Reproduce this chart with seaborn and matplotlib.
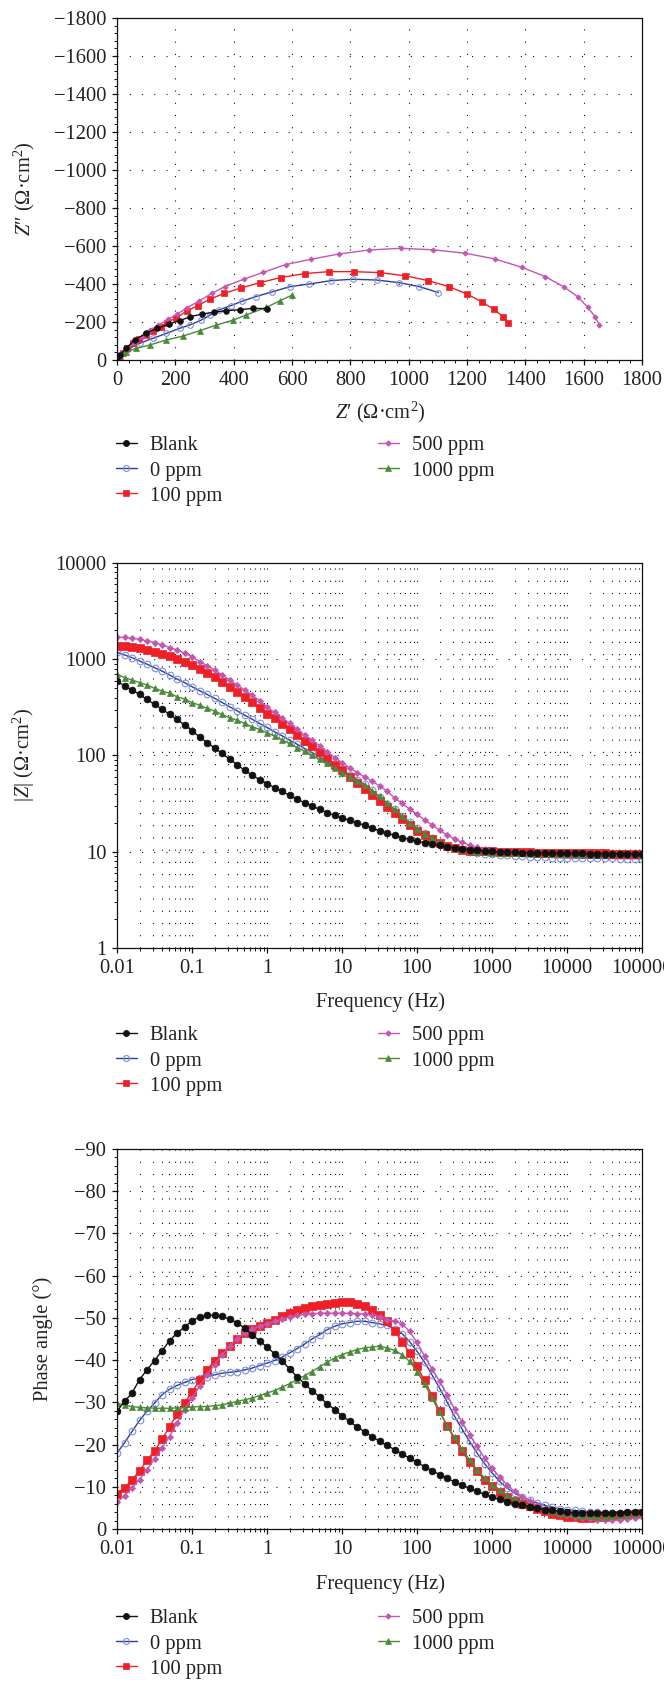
import numpy as np
import matplotlib
matplotlib.use("Agg")
import matplotlib.pyplot as plt
import seaborn as sns
from matplotlib.ticker import MultipleLocator, LogLocator, FuncFormatter, NullFormatter
from matplotlib.lines import Line2D

# ---------------------------------------------------------------- data
series = ["Blank", "0 ppm", "100 ppm", "500 ppm", "1000 ppm"]

# Nyquist: Z' and Z'' (ohm cm^2)
nyq_re_blank = [0, 10, 31, 60, 99, 138, 179, 215, 251, 292, 331, 375, 423, 467, 513]
nyq_im_blank = [0, -25, -61, -105, -140, -167, -190, -207, -228, -242, -251, -260, -265, -272, -270]

nyq_re_0 = [0, 9, 38, 78, 123, 169, 215, 249, 289, 320, 348, 390, 430, 476, 531, 593,
            659, 734, 808, 890, 968, 1037, 1102]
nyq_im_0 = [0, -26, -58, -88, -114, -140, -167, -184, -210, -237, -263, -286, -310, -334,
            -358, -386, -400, -418, -425, -421, -407, -386, -355]

nyq_re_100 = [0, 7, 19, 33, 55, 77, 99, 124, 150, 172, 201, 240, 276, 318, 368, 425, 490,
              561, 644, 727, 811, 901, 989, 1066, 1138, 1199, 1250, 1291, 1325, 1342]
nyq_im_100 = [0, -18, -39, -61, -88, -109, -132, -155, -176, -197, -220, -258, -285, -320,
              -351, -379, -407, -434, -455, -465, -465, -460, -443, -418, -386, -348, -307,
              -267, -228, -197]

nyq_re_500 = [0, 26, 55, 84, 113, 142, 176, 205, 240, 281, 326, 369, 434, 501, 578, 664,
              761, 864, 974, 1083, 1194, 1295, 1388, 1468, 1531, 1579, 1614, 1639, 1654]
nyq_im_500 = [0, -44, -88, -123, -158, -184, -214, -240, -275, -310, -351, -386, -425, -461,
              -502, -530, -558, -579, -588, -580, -562, -532, -488, -439, -386, -334, -277,
              -228, -184]

nyq_re_1000 = [0, 9, 32, 66, 112, 169, 226, 283, 341, 398, 443, 512, 559, 600]
nyq_im_1000 = [0, -21, -44, -61, -79, -105, -126, -154, -184, -210, -237, -277, -312, -342]

# Bode: frequency grid, 10 points per decade from 0.01 Hz to 100 kHz
freq = 10 ** np.linspace(-2, 5, 71)

# log10 |Z| (ohm cm^2)
logz_blank = [2.774, 2.722, 2.681, 2.635, 2.583, 2.531, 2.483, 2.427, 2.375, 2.316, 2.257,
              2.194, 2.135, 2.080, 2.021, 1.962, 1.906, 1.847, 1.795, 1.750, 1.708,
              1.667, 1.628, 1.587, 1.545, 1.510, 1.476, 1.441, 1.406, 1.378, 1.351,
              1.326, 1.302, 1.274, 1.247, 1.218, 1.192, 1.170, 1.148, 1.128, 1.110,
              1.095, 1.080, 1.066, 1.052, 1.040, 1.030, 1.021, 1.014, 1.008, 1.003,
              0.999, 0.996, 0.993, 0.991, 0.989, 0.987, 0.986, 0.985, 0.984, 0.983,
              0.982, 0.982, 0.981, 0.981, 0.980, 0.980, 0.979, 0.979, 0.978, 0.978]
logz_0 = [3.073, 3.045, 3.017, 2.983, 2.948, 2.913, 2.878, 2.837, 2.795, 2.757, 2.715,
          2.674, 2.635, 2.594, 2.552, 2.507, 2.465, 2.420, 2.378, 2.333, 2.292,
          2.247, 2.205, 2.160, 2.118, 2.073, 2.031, 1.986, 1.941, 1.892, 1.847,
          1.800, 1.750, 1.700, 1.640, 1.570, 1.500, 1.440, 1.370, 1.310, 1.250,
          1.190, 1.140, 1.095, 1.060, 1.035, 1.015, 1.000, 0.990, 0.980, 0.973,
          0.968, 0.962, 0.957, 0.952, 0.948, 0.945, 0.942, 0.940, 0.938, 0.936,
          0.935, 0.934, 0.933, 0.932, 0.931, 0.930, 0.929, 0.928, 0.928, 0.927]
logz_100 = [3.142, 3.140, 3.132, 3.115, 3.097, 3.080, 3.056, 3.035, 3.003, 2.976, 2.941,
            2.899, 2.854, 2.812, 2.760, 2.708, 2.656, 2.604, 2.552, 2.490, 2.434,
            2.385, 2.323, 2.271, 2.212, 2.153, 2.101, 2.038, 1.976, 1.906, 1.847,
            1.778, 1.715, 1.656, 1.590, 1.524, 1.460, 1.400, 1.340, 1.275, 1.220,
            1.175, 1.130, 1.090, 1.055, 1.035, 1.020, 1.012, 1.008, 1.005, 1.003,
            1.001, 0.999, 0.997, 0.995, 0.993, 0.991, 0.990, 0.989, 0.988, 0.987,
            0.986, 0.985, 0.984, 0.983, 0.982, 0.981, 0.980, 0.980, 0.979, 0.979]
logz_500 = [3.229, 3.226, 3.219, 3.208, 3.191, 3.174, 3.149, 3.122, 3.097, 3.063, 3.028,
            2.976, 2.934, 2.889, 2.837, 2.785, 2.733, 2.681, 2.628, 2.569, 2.507,
            2.448, 2.392, 2.333, 2.274, 2.212, 2.160, 2.101, 2.038, 1.979, 1.927,
            1.872, 1.823, 1.778, 1.733, 1.685, 1.630, 1.560, 1.503, 1.444, 1.389,
            1.330, 1.278, 1.226, 1.174, 1.132, 1.098, 1.070, 1.046, 1.029, 1.015,
            1.007, 1.001, 0.997, 0.994, 0.992, 0.990, 0.988, 0.986, 0.985, 0.984,
            0.983, 0.982, 0.981, 0.980, 0.979, 0.978, 0.977, 0.976, 0.976, 0.975]
logz_1000 = [2.847, 2.809, 2.785, 2.757, 2.733, 2.698, 2.670, 2.646, 2.611, 2.587, 2.549,
             2.524, 2.490, 2.462, 2.427, 2.392, 2.368, 2.333, 2.299, 2.271, 2.236,
             2.201, 2.160, 2.125, 2.083, 2.045, 2.003, 1.962, 1.917, 1.872, 1.823,
             1.778, 1.733, 1.690, 1.635, 1.575, 1.510, 1.440, 1.370, 1.300, 1.240,
             1.185, 1.140, 1.100, 1.065, 1.040, 1.020, 1.008, 1.000, 0.995, 0.990,
             0.988, 0.986, 0.985, 0.983, 0.982, 0.981, 0.980, 0.979, 0.978, 0.977,
             0.976, 0.975, 0.975, 0.974, 0.974, 0.973, 0.973, 0.972, 0.972, 0.971]

# Phase angle (degrees)
phase_blank = [-27.9, -30.2, -32.2, -35.4, -37.7, -39.9, -42.2, -44.6, -46.4, -47.8, -49.3,
               -50.2, -50.6, -50.6, -50.4, -49.7, -48.8, -47.6, -46.0, -44.6, -43.1,
               -41.5, -39.9, -37.9, -36.1, -34.4, -32.8, -31.3, -29.7, -28.3, -26.8,
               -25.5, -24.2, -23.0, -21.9, -20.8, -19.8, -18.8, -17.8, -16.8, -15.8,
               -14.8, -13.8, -12.9, -12.0, -11.2, -10.4, -9.6, -8.9, -8.2, -7.6,
               -7.0, -6.5, -6.0, -5.6, -5.2, -4.9, -4.6, -4.4, -4.2, -4.0,
               -3.9, -3.9, -3.9, -3.9, -3.9, -3.9, -3.9, -4.0, -4.0, -4.0]
phase_0 = [-18.0, -20.4, -23.1, -25.7, -27.9, -29.8, -31.8, -33.1, -34.0, -34.7, -35.4,
           -35.8, -36.1, -36.5, -36.9, -37.1, -37.3, -37.7, -38.1, -38.7, -39.3,
           -39.9, -40.7, -41.7, -42.7, -43.8, -45.0, -46.0, -47.2, -48.0, -48.6,
           -48.9, -49.2, -49.2, -48.9, -48.6, -48.2, -47.4, -46.3, -44.4, -42.1,
           -39.5, -36.5, -33.4, -30.1, -26.7, -23.7, -20.8, -18.0, -15.5, -13.3,
           -11.3, -9.7, -8.5, -7.6, -6.8, -6.2, -5.6, -5.2, -4.8, -4.6,
           -4.4, -4.2, -4.1, -4.0, -3.9, -3.8, -3.7, -3.7, -3.6, -3.5]
phase_100 = [-8.4, -9.7, -11.7, -13.7, -16.3, -18.5, -21.2, -24.2, -27.2, -29.8, -32.4,
             -35.2, -37.6, -39.9, -41.7, -43.4, -45.0, -46.4, -47.4, -48.1, -48.9,
             -49.6, -50.4, -51.1, -51.8, -52.3, -52.7, -53.0, -53.4, -53.6, -53.7,
             -53.7, -53.4, -52.9, -51.9, -50.6, -49.2, -46.8, -44.4, -41.7, -38.5,
             -35.2, -31.6, -28.0, -24.5, -21.3, -18.4, -15.9, -13.7, -11.7, -10.1,
             -8.7, -7.6, -6.7, -6.0, -5.4, -4.7, -4.2, -3.6, -3.2, -2.9,
             -2.8, -2.7, -2.7, -2.8, -2.8, -3.0, -3.2, -3.4, -3.6, -3.9]
phase_500 = [-6.3, -7.9, -9.7, -11.7, -14.0, -16.6, -19.2, -21.9, -25.1, -28.3, -31.0,
             -33.8, -36.5, -38.9, -41.3, -43.3, -45.0, -46.4, -47.4, -48.0, -48.6,
             -49.2, -49.7, -50.2, -50.6, -50.9, -51.0, -51.1, -51.1, -51.1, -51.1,
             -51.1, -51.0, -50.9, -50.7, -50.3, -49.6, -49.2, -48.6, -46.8, -44.2,
             -41.0, -37.9, -35.0, -31.8, -28.4, -25.3, -22.3, -19.6, -16.8, -14.4,
             -12.3, -10.5, -8.9, -7.6, -6.6, -5.6, -4.8, -4.2, -3.6, -3.2,
             -2.8, -2.6, -2.4, -2.2, -2.1, -2.1, -2.2, -2.4, -2.6, -2.8]
phase_1000 = [-29.8, -29.4, -29.0, -28.8, -28.7, -28.6, -28.6, -28.6, -28.7, -28.7, -28.9,
              -29.0, -29.0, -29.2, -29.4, -29.8, -30.2, -30.6, -31.0, -31.6, -32.2,
              -32.8, -33.6, -34.4, -35.4, -36.3, -37.3, -38.4, -39.5, -40.5, -41.3,
              -41.9, -42.5, -42.9, -43.1, -43.3, -42.9, -42.3, -41.3, -39.7, -37.3,
              -34.4, -31.0, -27.7, -24.5, -21.7, -18.9, -16.4, -14.0, -12.1, -10.5,
              -9.2, -8.0, -7.0, -6.2, -5.6, -5.1, -4.6, -4.1, -3.8, -3.5,
              -3.2, -3.1, -3.0, -2.9, -2.9, -3.0, -3.2, -3.3, -3.5, -3.7]

nyquist = {"Blank": (nyq_re_blank, nyq_im_blank), "0 ppm": (nyq_re_0, nyq_im_0),
           "100 ppm": (nyq_re_100, nyq_im_100), "500 ppm": (nyq_re_500, nyq_im_500),
           "1000 ppm": (nyq_re_1000, nyq_im_1000)}
modulus = {"Blank": logz_blank, "0 ppm": logz_0, "100 ppm": logz_100,
           "500 ppm": logz_500, "1000 ppm": logz_1000}
phase = {"Blank": phase_blank, "0 ppm": phase_0, "100 ppm": phase_100,
         "500 ppm": phase_500, "1000 ppm": phase_1000}

# ---------------------------------------------------------------- styling
styles = {
    "Blank":    dict(line="#111111", marker="o", ms=4.8, mfc="#111111", mec="#111111", mew=0.6),
    "0 ppm":    dict(line="#2c3f9c", marker="o", ms=4.8, mfc="none", mec="#7f8fd8", mew=0.8),
    "100 ppm":  dict(line="#ee1f26", marker="s", ms=5.4, mfc="#ee1f26", mec="#ee1f26", mew=0.5),
    "500 ppm":  dict(line="#c256b0", marker="D", ms=3.2, mfc="#c256b0", mec="#c256b0", mew=0.5),
    "1000 ppm": dict(line="#4b8a3a", marker="^", ms=4.6, mfc="#4b8a3a", mec="#4b8a3a", mew=0.5),
}
draw_order = ["0 ppm", "100 ppm", "500 ppm", "1000 ppm", "Blank"]

sns.set_style("ticks")
plt.rcParams.update({
    "font.family": ["Liberation Serif", "DejaVu Serif"],
    "mathtext.fontset": "custom",
    "mathtext.rm": "Liberation Serif",
    "mathtext.it": "Liberation Serif:italic",
    "font.size": 14.8,
    "axes.linewidth": 0.9,
    "axes.edgecolor": "#111111",
    "xtick.color": "#111111",
    "ytick.color": "#111111",
    "xtick.labelcolor": "#222222",
    "ytick.labelcolor": "#222222",
    "xtick.direction": "out",
    "ytick.direction": "out",
    "xtick.major.size": 3.6,
    "ytick.major.size": 3.6,
    "xtick.minor.size": 2.2,
    "ytick.minor.size": 2.2,
    "xtick.major.width": 0.9,
    "ytick.major.width": 0.9,
    "xtick.minor.width": 0.7,
    "ytick.minor.width": 0.7,
    "xtick.major.pad": 4,
    "ytick.major.pad": 4,
    "xtick.labelsize": 14.8,
    "ytick.labelsize": 14.8,
})

W, H = 664, 1685
fig = plt.figure(figsize=(W / 100, H / 100), dpi=100)


def axes_at(left, top, right, bottom):
    return fig.add_axes([left / W, 1 - bottom / H, (right - left) / W, (bottom - top) / H])


def label_at(x, y, text, rotation=0):
    fig.text(x / W, 1 - y / H, text, ha="center", va="center", rotation=rotation,
             fontsize=14.8, color="#222222")


def draw_series(ax, x, y, name, scale=1.0):
    st = styles[name]
    sns.lineplot(x=x, y=y, ax=ax, sort=False, estimator=None, legend=False,
                 color=st["line"], linewidth=1.0, marker=st["marker"],
                 markersize=st["ms"] * scale, markerfacecolor=st["mfc"],
                 markeredgecolor=st["mec"], markeredgewidth=st["mew"])


dots = (0, (1, 10))
grid_kw = dict(color="#111111", linestyle=dots, linewidth=0.8)


def plain(v, pos):
    return f"{v:.10g}"


def add_legend(top):
    handles = [Line2D([0], [0], color=styles[n]["line"], lw=1.0, marker=styles[n]["marker"],
                      markersize=styles[n]["ms"] * 0.9, markerfacecolor=styles[n]["mfc"],
                      markeredgecolor=styles[n]["mec"], markeredgewidth=styles[n]["mew"])
               for n in series]
    common = dict(loc="upper left", frameon=False, borderpad=0, borderaxespad=0,
                  handlelength=1.0, handletextpad=0.65, labelspacing=0.28,
                  fontsize=14.8, labelcolor="#222222")
    fig.legend(handles[:3], series[:3], bbox_to_anchor=(116 / W, 1 - top / H), **common)
    fig.legend(handles[3:], series[3:], bbox_to_anchor=(378 / W, 1 - top / H), **common)


# ---------------------------------------------------------------- Nyquist
ax1 = axes_at(117, 18, 642, 360)
ax1.set_axisbelow(True)
for name in draw_order:
    re_, im_ = nyquist[name]
    draw_series(ax1, re_, im_, name, scale=0.85)
ax1.set_xlim(0, 1800)
ax1.set_ylim(0, -1800)
ax1.xaxis.set_major_locator(MultipleLocator(200))
ax1.xaxis.set_minor_locator(MultipleLocator(40))
ax1.yaxis.set_major_locator(MultipleLocator(200))
ax1.yaxis.set_minor_locator(MultipleLocator(40))
ax1.grid(True, which="major", axis="both", **grid_kw)
ax1.set_xlabel("")
ax1.set_ylabel("")
label_at(24, 189, "$Z$\u2033 (Ω·cm$^2$)", rotation=90)
label_at(380, 412, "$Z$\u2032 (Ω·cm$^2$)")
add_legend(436)

# ---------------------------------------------------------------- Bode modulus
ax2 = axes_at(117, 563, 642, 948)
ax2.set_xscale("log")
ax2.set_yscale("log")
ax2.set_axisbelow(True)
for name in draw_order:
    draw_series(ax2, freq, 10 ** np.array(modulus[name]), name)
ax2.set_xlim(0.01, 1e5)
ax2.set_ylim(1, 1e4)
ax2.xaxis.set_major_locator(LogLocator(base=10, numticks=20))
ax2.xaxis.set_minor_locator(LogLocator(base=10, subs=np.arange(2, 10), numticks=100))
ax2.yaxis.set_major_locator(LogLocator(base=10, numticks=20))
ax2.yaxis.set_minor_locator(LogLocator(base=10, subs=np.arange(2, 10), numticks=100))
ax2.xaxis.set_major_formatter(FuncFormatter(plain))
ax2.yaxis.set_major_formatter(FuncFormatter(plain))
ax2.xaxis.set_minor_formatter(NullFormatter())
ax2.yaxis.set_minor_formatter(NullFormatter())
ax2.grid(True, which="both", axis="x", **grid_kw)
ax2.grid(True, which="major", axis="y", **grid_kw)
ax2.set_xlabel("")
ax2.set_ylabel("")
label_at(24, 755, "|$Z$| (Ω·cm$^2$)", rotation=90)
label_at(380, 1002, "Frequency (Hz)")
add_legend(1026)

# ---------------------------------------------------------------- Bode phase
ax3 = axes_at(117, 1149, 642, 1529)
ax3.set_xscale("log")
ax3.set_axisbelow(True)
for name in draw_order:
    draw_series(ax3, freq, phase[name], name)
ax3.set_xlim(0.01, 1e5)
ax3.set_ylim(0, -90)
ax3.xaxis.set_major_locator(LogLocator(base=10, numticks=20))
ax3.xaxis.set_minor_locator(LogLocator(base=10, subs=np.arange(2, 10), numticks=100))
ax3.xaxis.set_major_formatter(FuncFormatter(plain))
ax3.xaxis.set_minor_formatter(NullFormatter())
ax3.yaxis.set_major_locator(MultipleLocator(10))
ax3.yaxis.set_minor_locator(MultipleLocator(2))
ax3.grid(True, which="both", axis="x", **grid_kw)
ax3.grid(True, which="major", axis="y", **grid_kw)
ax3.set_xlabel("")
ax3.set_ylabel("")
label_at(43, 1339, "Phase angle (°)", rotation=90)
label_at(380, 1584, "Frequency (Hz)")
add_legend(1609)

for ax in (ax1, ax2, ax3):
    for sp in ax.spines.values():
        sp.set_visible(True)
        sp.set_linewidth(0.9)

fig.savefig("out.png", dpi=100)
